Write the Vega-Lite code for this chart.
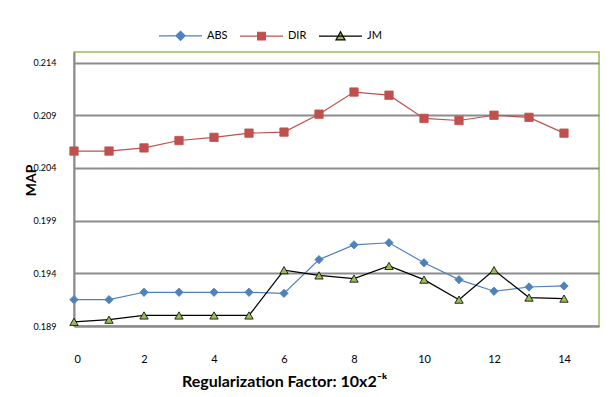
{
  "$schema": "https://vega.github.io/schema/vega-lite/v6.json",
  "width": 525,
  "height": 274,
  "autosize": {"type": "none"},
  "padding": {"left": 74, "top": 52, "right": 16, "bottom": 71},
  "background": "white",
  "config": {
    "font": "Lato",
    "view": {"stroke": "#9bbb59", "strokeWidth": 1.5}
  },
  "data": {
    "values": [
      {"k": 0, "series": "ABS", "map": 0.1915},
      {"k": 1, "series": "ABS", "map": 0.1915},
      {"k": 2, "series": "ABS", "map": 0.1922},
      {"k": 3, "series": "ABS", "map": 0.1922},
      {"k": 4, "series": "ABS", "map": 0.1922},
      {"k": 5, "series": "ABS", "map": 0.1922},
      {"k": 6, "series": "ABS", "map": 0.1921},
      {"k": 7, "series": "ABS", "map": 0.1953},
      {"k": 8, "series": "ABS", "map": 0.1967},
      {"k": 9, "series": "ABS", "map": 0.1969},
      {"k": 10, "series": "ABS", "map": 0.195},
      {"k": 11, "series": "ABS", "map": 0.1934},
      {"k": 12, "series": "ABS", "map": 0.1923},
      {"k": 13, "series": "ABS", "map": 0.1927},
      {"k": 14, "series": "ABS", "map": 0.1928},
      {"k": 0, "series": "DIR", "map": 0.2056},
      {"k": 1, "series": "DIR", "map": 0.2056},
      {"k": 2, "series": "DIR", "map": 0.2059},
      {"k": 3, "series": "DIR", "map": 0.2066},
      {"k": 4, "series": "DIR", "map": 0.2069},
      {"k": 5, "series": "DIR", "map": 0.2073},
      {"k": 6, "series": "DIR", "map": 0.2074},
      {"k": 7, "series": "DIR", "map": 0.2091},
      {"k": 8, "series": "DIR", "map": 0.2112},
      {"k": 9, "series": "DIR", "map": 0.2109},
      {"k": 10, "series": "DIR", "map": 0.2087},
      {"k": 11, "series": "DIR", "map": 0.2085},
      {"k": 12, "series": "DIR", "map": 0.209},
      {"k": 13, "series": "DIR", "map": 0.2088},
      {"k": 14, "series": "DIR", "map": 0.2073},
      {"k": 0, "series": "JM", "map": 0.1894},
      {"k": 1, "series": "JM", "map": 0.1896},
      {"k": 2, "series": "JM", "map": 0.19},
      {"k": 3, "series": "JM", "map": 0.19},
      {"k": 4, "series": "JM", "map": 0.19},
      {"k": 5, "series": "JM", "map": 0.19},
      {"k": 6, "series": "JM", "map": 0.1943},
      {"k": 7, "series": "JM", "map": 0.1938},
      {"k": 8, "series": "JM", "map": 0.1935},
      {"k": 9, "series": "JM", "map": 0.1947},
      {"k": 10, "series": "JM", "map": 0.1934},
      {"k": 11, "series": "JM", "map": 0.1915},
      {"k": 12, "series": "JM", "map": 0.1943},
      {"k": 13, "series": "JM", "map": 0.1917},
      {"k": 14, "series": "JM", "map": 0.1916}
    ]
  },
  "encoding": {
    "x": {
      "field": "k", "type": "quantitative",
      "scale": {"domain": [0, 15], "nice": false, "zero": false},
      "axis": {
        "values": [0, 2, 4, 6, 8, 10, 12, 14],
        "title": "Regularization Factor: 10x2⁻ᵏ",
        "titleFont": "Lato", "titleFontSize": 16, "titleFontWeight": "bold", "titleColor": "#000000",
        "titleX": 210, "titleY": 55, "titleBaseline": "middle",
        "labelFontSize": 11, "labelColor": "#000000", "labelPadding": 27,
        "ticks": false, "grid": false,
        "domainColor": "#8c8c8c", "domainWidth": 2
      }
    },
    "y": {
      "field": "map", "type": "quantitative",
      "scale": {"domain": [0.189, 0.215], "nice": false, "zero": false},
      "axis": {
        "values": [0.189, 0.194, 0.199, 0.204, 0.209, 0.214],
        "format": ".3f",
        "title": "MAP",
        "titleFont": "Lato", "titleFontSize": 14, "titleFontWeight": "bold", "titleColor": "#000000",
        "titleX": -43, "titleY": 128, "titleAngle": -90, "titleAlign": "center", "titleBaseline": "middle",
        "labelFontSize": 9, "labelColor": "#000000", "labelPadding": 18,
        "ticks": false,
        "grid": true, "gridColor": "#8c8c8c", "gridWidth": 2,
        "domainColor": "#8c8c8c", "domainWidth": 2
      }
    }
  },
  "layer": [
    {
      "mark": {"type": "line", "strokeWidth": 1.2},
      "encoding": {
        "color": {
          "field": "series", "type": "nominal",
          "scale": {"domain": ["ABS", "DIR", "JM"], "range": ["#4f81bd", "#c0504d", "#000000"]},
          "legend": {
            "title": null,
            "orient": "none",
            "direction": "horizontal",
            "legendX": 84,
            "legendY": -39,
            "symbolSize": 1849,
            "columnPadding": 9,
            "labelOffset": 4,
            "labelFontSize": 11,
            "labelColor": "#000000",
            "encode": {
              "symbols": {
                "update": {
                  "shape": {"signal": "datum.value === 'ABS' ? 'M-1,0H1M0,-0.21L0.21,0L0,0.21L-0.21,0Z' : datum.value === 'DIR' ? 'M-1,0H1M-0.18,-0.18H0.18V0.18H-0.18Z' : 'M-1,0H1M0,-0.21L0.21,0.17H-0.21Z'"},
                  "fill": {"signal": "datum.value === 'JM' ? '#9bbb59' : scale('color', datum.value)"},
                  "stroke": {"signal": "scale('color', datum.value)"},
                  "strokeWidth": {"value": 1.2},
                  "opacity": {"value": 1}
                }
              }
            }
          }
        }
      }
    },
    {
      "mark": {"type": "point", "filled": true, "opacity": 1, "size": 70, "strokeWidth": 0.8},
      "encoding": {
        "shape": {
          "condition": [
            {"test": "datum.series === 'ABS'", "value": "diamond"},
            {"test": "datum.series === 'DIR'", "value": "square"}
          ],
          "value": "triangle-up"
        },
        "fill": {
          "condition": [
            {"test": "datum.series === 'ABS'", "value": "#4f81bd"},
            {"test": "datum.series === 'DIR'", "value": "#c0504d"}
          ],
          "value": "#9bbb59"
        },
        "stroke": {
          "condition": [
            {"test": "datum.series === 'ABS'", "value": "#4f81bd"},
            {"test": "datum.series === 'DIR'", "value": "#c0504d"}
          ],
          "value": "#000000"
        }
      }
    }
  ]
}
